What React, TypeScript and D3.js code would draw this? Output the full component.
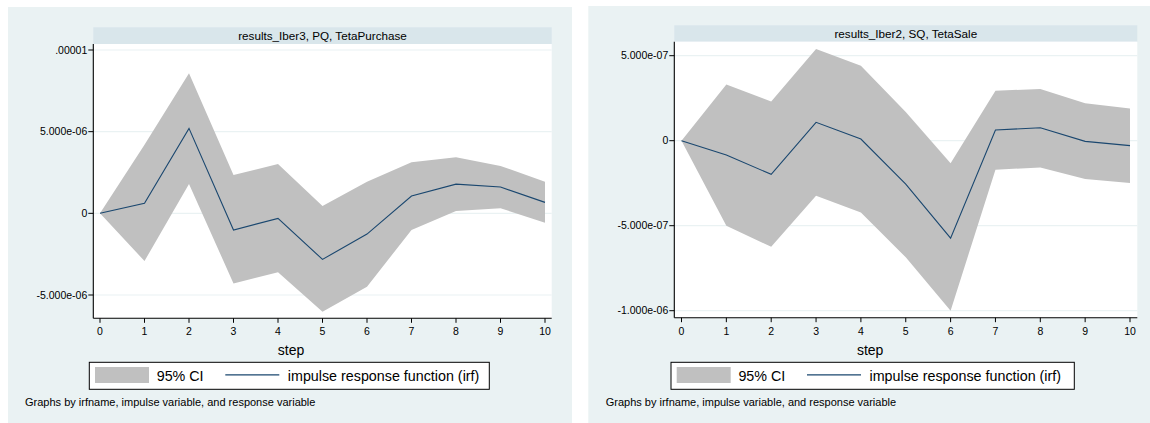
import React from "react";
import * as d3 from "d3";

// ---------- data ----------
const steps = [0, 1, 2, 3, 4, 5, 6, 7, 8, 9, 10];

const leftTitle = "results_Iber3, PQ, TetaPurchase";
const leftIrf = [0, 0.61e-6, 5.2e-6, -1.02e-6, -0.31e-6, -2.82e-6, -1.27e-6, 1.06e-6, 1.79e-6, 1.61e-6, 0.67e-6];
const leftUpper = [0, 4.2e-6, 8.57e-6, 2.35e-6, 3.02e-6, 0.45e-6, 1.94e-6, 3.12e-6, 3.43e-6, 2.9e-6, 1.94e-6];
const leftLower = [0, -2.92e-6, 1.79e-6, -4.29e-6, -3.61e-6, -6.02e-6, -4.49e-6, -1.02e-6, 0.14e-6, 0.31e-6, -0.57e-6];
const leftYTicks = [-5e-6, 0, 5e-6, 1e-5];
const leftYTickLabels = ["-5.000e-06", "0", "5.000e-06", ".00001"];

const rightTitle = "results_Iber2, SQ, TetaSale";
const rightIrf = [0, -0.84e-7, -1.98e-7, 1.08e-7, 0.1e-7, -2.55e-7, -5.73e-7, 0.63e-7, 0.76e-7, -0.04e-7, -0.29e-7];
const rightUpper = [0, 3.31e-7, 2.31e-7, 5.39e-7, 4.41e-7, 1.69e-7, -1.33e-7, 2.94e-7, 3.04e-7, 2.2e-7, 1.9e-7];
const rightLower = [0, -5.0e-7, -6.24e-7, -3.24e-7, -4.22e-7, -6.86e-7, -1.0e-6, -1.71e-7, -1.57e-7, -2.25e-7, -2.49e-7];
const rightYTicks = [-1e-6, -5e-7, 0, 5e-7];
const rightYTickLabels = ["-1.000e-06", "-5.000e-07", "0", "5.000e-07"];

const xTitle = "step";
const legendCI = "95% CI";
const legendIrf = "impulse response function (irf)";
const note = "Graphs by irfname, impulse variable, and response variable";

// ---------- styles ----------
const FONT = "'Liberation Sans', Arial, sans-serif";
const BG = "#EAF2F3";
const STRIP = "#D9E6EB";
const GRID = "#EAF2F3";
const BAND = "#C0C0C0";
const LINE = "#1A476F";

type PanelProps = {
  title: string;
  irf: number[];
  upper: number[];
  lower: number[];
  yTicks: number[];
  yTickLabels: string[];
  yDomain: [number, number];
  layout: {
    bgX: number; bgY: number; bgW: number; bgH: number;
    px0: number; px1: number; stripTop: number; stripBot: number; plotBot: number;
    x0: number; x10: number; yLo: number; yHi: number;
    legX0: number; legX1: number; noteX: number;
  };
};

function Panel({ title, irf, upper, lower, yTicks, yTickLabels, yDomain, layout: L }: PanelProps) {
  const x = d3.scaleLinear().domain([0, 10]).range([L.x0, L.x10]);
  const y = d3.scaleLinear().domain(yDomain).range([L.yLo, L.yHi]);
  const band = d3
    .area<number>()
    .x((d) => x(d))
    .y0((d, i) => y(lower[i]))
    .y1((d, i) => y(upper[i]));
  const line = d3
    .line<number>()
    .x((d) => x(d))
    .y((d, i) => y(irf[i]));
  const cx = (L.bgX + L.bgX + L.bgW) / 2 + 1;
  const legY0 = 362.3;
  const legY1 = 389.3;
  const legMid = (legY0 + legY1) / 2;
  return (
    <g>
      <rect x={L.bgX} y={L.bgY} width={L.bgW} height={L.bgH} fill={BG} />
      <rect x={L.px0} y={L.stripTop} width={L.px1 - L.px0} height={L.stripBot - L.stripTop} fill={STRIP} />
      <text x={(L.px0 + L.px1) / 2} y={(L.stripTop + L.stripBot) / 2} dy="0.36em" textAnchor="middle" fontSize={11.7} fontFamily={FONT} fill="#000">
        {title}
      </text>
      <rect x={L.px0} y={L.stripBot} width={L.px1 - L.px0} height={L.plotBot - L.stripBot} fill="#fff" />
      {yTicks.map((t) => (
        <line key={"g" + t} x1={L.px0} x2={L.px1} y1={y(t)} y2={y(t)} stroke={GRID} strokeWidth={1.2} />
      ))}
      <path d={band(steps) || ""} fill={BAND} />
      <path d={line(steps) || ""} fill="none" stroke={LINE} strokeWidth={1.1} />
      {/* axes */}
      <line x1={L.px0} x2={L.px0} y1={L.stripBot} y2={L.plotBot} stroke="#000" strokeWidth={1.1} />
      <line x1={L.px0} x2={L.px1} y1={L.plotBot} y2={L.plotBot} stroke="#000" strokeWidth={1.1} />
      {yTicks.map((t, i) => (
        <g key={"yt" + t}>
          <line x1={L.px0 - 5} x2={L.px0} y1={y(t)} y2={y(t)} stroke="#000" strokeWidth={1} />
          <text x={L.px0 - 6} y={y(t)} dy="0.35em" textAnchor="end" fontSize={10.5} fontFamily={FONT} fill="#000">
            {yTickLabels[i]}
          </text>
        </g>
      ))}
      {steps.map((s) => (
        <g key={"xt" + s}>
          <line x1={x(s)} x2={x(s)} y1={L.plotBot} y2={L.plotBot + 4.5} stroke="#000" strokeWidth={1} />
          <text x={x(s)} y={331.5} dy="0.35em" textAnchor="middle" fontSize={10.5} fontFamily={FONT} fill="#000">
            {s}
          </text>
        </g>
      ))}
      <text x={cx} y={350} dy="0.35em" textAnchor="middle" fontSize={14} fontFamily={FONT} fill="#000">
        {xTitle}
      </text>
      {/* legend */}
      <rect x={L.legX0} y={legY0} width={L.legX1 - L.legX0} height={legY1 - legY0} fill="#fff" stroke="#000" strokeWidth={1} />
      <rect x={L.legX0 + 5.7} y={legY0 + 4.7} width={54} height={16} fill={BAND} />
      <text x={L.legX0 + 67.4} y={legMid} dy="0.36em" fontSize={14.3} fontFamily={FONT} fill="#000">
        {legendCI}
      </text>
      <line x1={L.legX0 + 136} x2={L.legX0 + 190} y1={legMid - 1} y2={legMid - 1} stroke={LINE} strokeWidth={1.2} />
      <text x={L.legX0 + 198.5} y={legMid} dy="0.36em" fontSize={14.3} fontFamily={FONT} fill="#000">
        {legendIrf}
      </text>
      <text x={L.noteX} y={402.5} dy="0.36em" fontSize={11} fontFamily={FONT} fill="#000">
        {note}
      </text>
    </g>
  );
}

export default function App() {
  return (
    <svg
      width={1150}
      height={423}
      style={{ position: "absolute", left: 0, top: 0, display: "block", background: "#fff" }}
    >
      <Panel
        title={leftTitle}
        irf={leftIrf}
        upper={leftUpper}
        lower={leftLower}
        yTicks={leftYTicks}
        yTickLabels={leftYTickLabels}
        yDomain={[-5e-6, 1e-5]}
        layout={{
          bgX: 8, bgY: 7, bgW: 564, bgH: 416,
          px0: 93.3, px1: 551.7, stripTop: 27.3, stripBot: 44, plotBot: 318.3,
          x0: 100, x10: 545, yLo: 295, yHi: 50,
          legX0: 89.3, legX1: 489.3, noteX: 25,
        }}
      />
      <Panel
        title={rightTitle}
        irf={rightIrf}
        upper={rightUpper}
        lower={rightLower}
        yTicks={rightYTicks}
        yTickLabels={rightYTickLabels}
        yDomain={[-1e-6, 5e-7]}
        layout={{
          bgX: 588.3, bgY: 6, bgW: 561.7, bgH: 417,
          px0: 674.3, px1: 1137.3, stripTop: 25.3, stripBot: 41.7, plotBot: 317.7,
          x0: 681.5, x10: 1130, yLo: 310.7, yHi: 55.7,
          legX0: 671, legX1: 1074.3, noteX: 605.7,
        }}
      />
    </svg>
  );
}
